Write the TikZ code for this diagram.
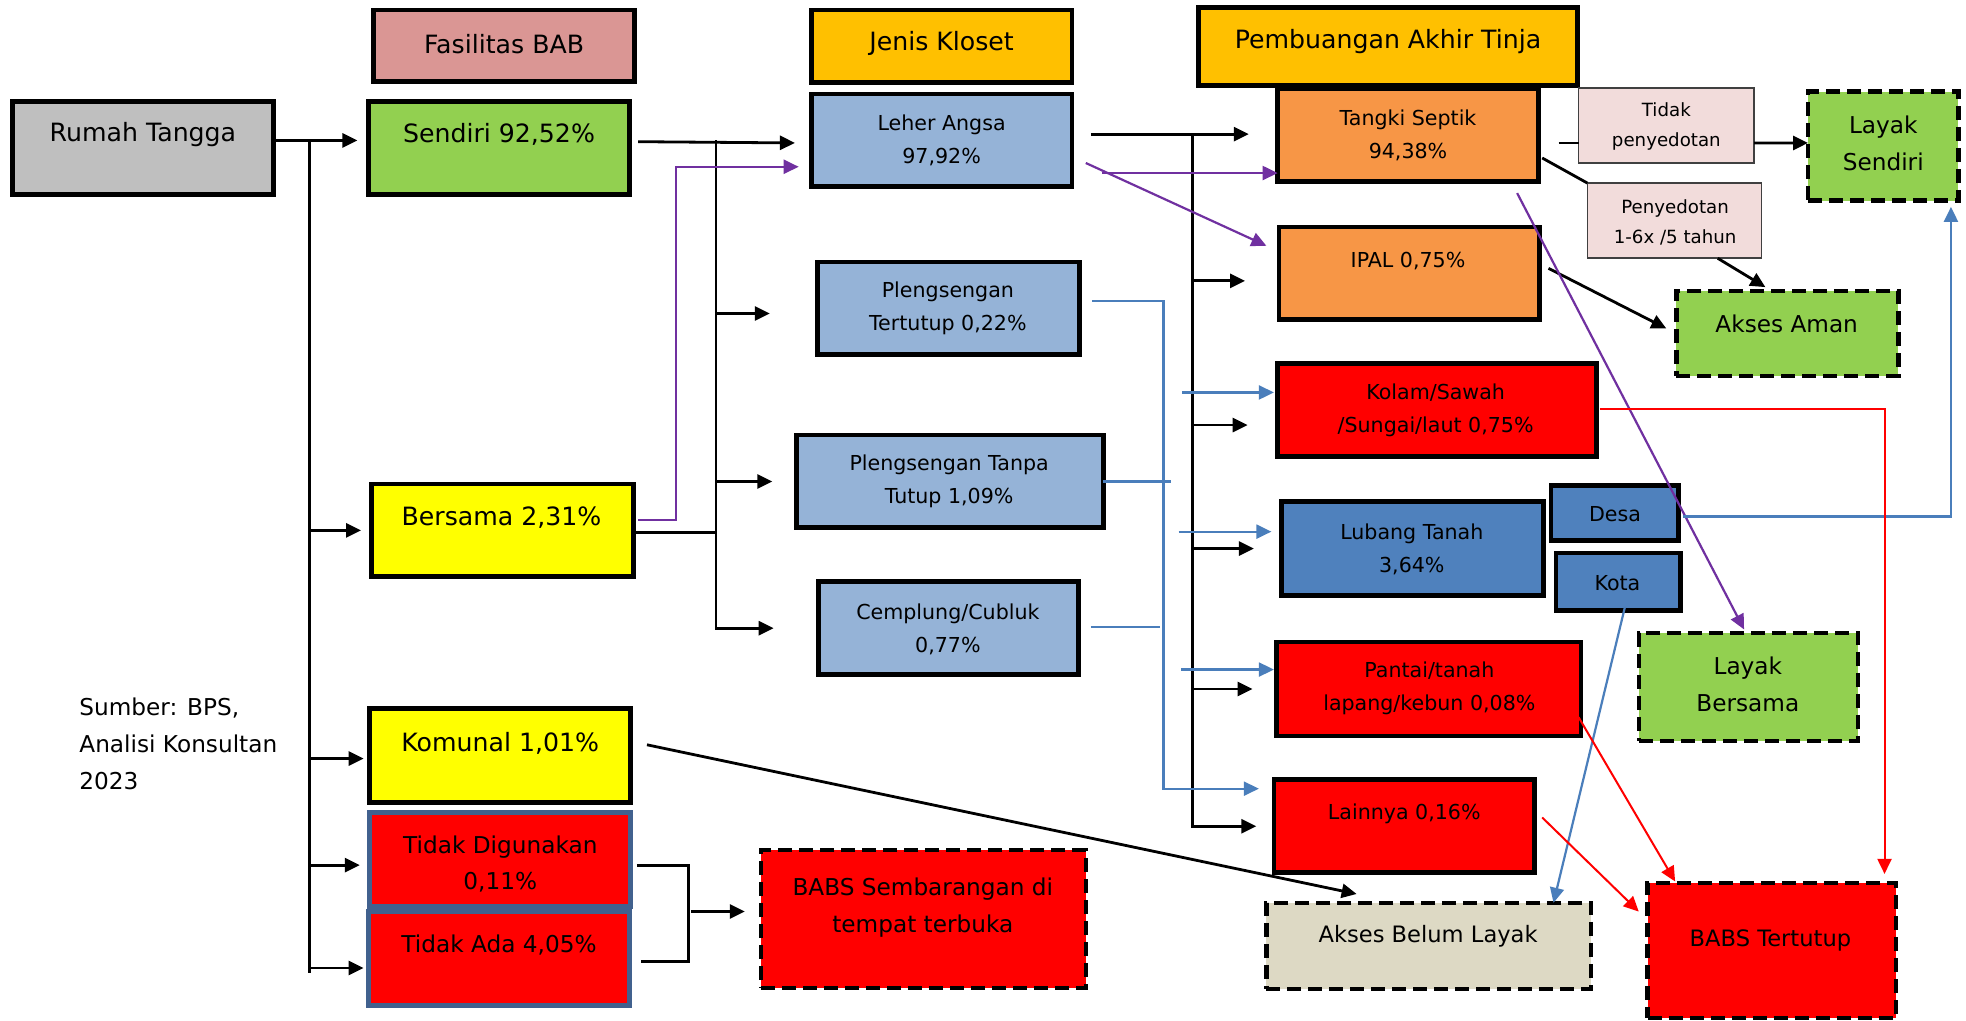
\documentclass[tikz,border=0pt]{standalone}
\usepackage{fontspec}
\setmainfont{DejaVu Sans}
\usetikzlibrary{arrows.meta,calc,fit}
\definecolor{cFas}{HTML}{DA9694}
\definecolor{cGray}{HTML}{BFBFBF}
\definecolor{cGreen}{HTML}{92D050}
\definecolor{cYel}{HTML}{FFFF00}
\definecolor{cRed}{HTML}{FF0000}
\definecolor{cGold}{HTML}{FFC000}
\definecolor{cLBlue}{HTML}{95B3D7}
\definecolor{cOrg}{HTML}{F79646}
\definecolor{cMBlue}{HTML}{4F81BD}
\definecolor{cPink}{HTML}{F2DCDB}
\definecolor{cTan}{HTML}{DDD9C4}
\definecolor{cSteel}{HTML}{41618E}
\definecolor{cPur}{HTML}{7030A0}
\definecolor{cBlu}{HTML}{4A7EBB}
\newcommand\bx[7]{\node[#2, fit={(#3) (#4)}, inner sep=0pt, outer sep=0pt] (#1) {};
  \node[lbl, #5] (#1t) at (#6) {#7};}
\tikzset{
  sbox/.style={draw=black, line width=2.4pt, rectangle},
  dbox/.style={draw=black, line width=2.2pt, rectangle, dash pattern=on 7pt off 3.5pt},
  tbox/.style={draw=black!75, line width=0.8pt, rectangle},
  lbl/.style={align=center, inner sep=0pt, text=black},
  fB/.style={font=\fontsize{12.6pt}{18pt}\selectfont},
  fT/.style={font=\fontsize{11.6pt}{18.2pt}\selectfont},
  fM/.style={font=\fontsize{11.6pt}{18.5pt}\selectfont},
  fS/.style={font=\fontsize{10.3pt}{16.6pt}\selectfont},
  fS2/.style={font=\fontsize{11.3pt}{16.6pt}\selectfont},
  fX/.style={font=\fontsize{9.1pt}{15pt}\selectfont},
  blk/.style={draw=black, line width=1.4pt},
  pur/.style={draw=cPur, line width=1.1pt},
  blu/.style={draw=cBlu, line width=1.1pt},
  rdl/.style={draw=cRed, line width=1pt},
  arr/.style={-{Triangle[length=7.5pt,width=7pt]}},
}
\begin{document}
\begin{tikzpicture}[x=0.6269pt, y=-0.6269pt]
\fill[white] (0,0) rectangle (1568,814);
\useasboundingbox (0,0) rectangle (1568,814);
% boxes
\bx{fas}{sbox, fill=cFas}{298,8}{506,65}{fB}{402,35}{Fasilitas BAB}
\bx{rt}{sbox, fill=cGray}{10,81}{218,155}{fB}{114,107}{Rumah Tangga}
\bx{sen}{sbox, fill=cGreen}{294,81}{502,155}{fB}{398,107}{Sendiri 92,52\%}
\bx{ber}{sbox, fill=cYel}{296,386}{505,460}{fB}{400,413}{Bersama 2,31\%}
\bx{kom}{sbox, fill=cYel}{295,565}{503,640}{fB}{399,593}{Komunal 1,01\%}
\bx{tdg}{sbox, draw=cSteel, fill=cRed}{295,648}{503,723}{fT}{399,689}{Tidak Digunakan\\0,11\%}
\bx{tda}{sbox, draw=cSteel, fill=cRed}{294,727}{502,802}{fT}{398,754}{Tidak Ada 4,05\%}
\bx{jk}{sbox, fill=cGold}{647,8}{855,66}{fB}{751,35}{Jenis Kloset}
\bx{la}{sbox, fill=cLBlue}{647,75}{855,149}{fS}{751,112}{Leher Angsa\\97,92\%}
\bx{pt}{sbox, fill=cLBlue}{652,209}{861,283}{fS}{756,246}{Plengsengan\\Tertutup 0,22\%}
\bx{ptt}{sbox, fill=cLBlue}{635,347}{880,421}{fS}{757,384}{Plengsengan Tanpa\\Tutup 1,09\%}
\bx{cc}{sbox, fill=cLBlue}{653,464}{860,538}{fS}{756,502}{Cemplung/Cubluk\\0,77\%}
\bx{pat}{sbox, fill=cGold}{956,6}{1258,68}{fB}{1107,33}{Pembuangan Akhir Tinja}
\bx{ts}{sbox, fill=cOrg}{1019,71}{1227,145}{fS}{1123,108}{Tangki Septik\\94,38\%}
\bx{ipal}{sbox, fill=cOrg}{1020,181}{1228,255}{fS}{1123,208}{IPAL 0,75\%}
\bx{kol}{sbox, fill=cRed}{1019,290}{1273,364}{fS}{1145,327}{Kolam/Sawah\\/Sungai/laut 0,75\%}
\bx{lt}{sbox, fill=cMBlue}{1022,400}{1231,475}{fS}{1126,438}{Lubang Tanah\\3,64\%}
\bx{pan}{sbox, fill=cRed}{1018,512}{1261,587}{fS}{1140,549}{Pantai/tanah\\lapang/kebun 0,08\%}
\bx{lai}{sbox, fill=cRed}{1016,622}{1224,696}{fS}{1120,649}{Lainnya 0,16\%}
\bx{desa}{sbox, fill=cMBlue}{1237,387}{1339,431}{fS}{1288,410}{Desa}
\bx{kota}{sbox, fill=cMBlue}{1241,441}{1340,487}{fS}{1290,465}{Kota}
\bx{tp}{tbox, fill=cPink}{1259,70}{1399,130}{fX}{1329,101}{Tidak\\penyedotan}
\bx{py}{tbox, fill=cPink}{1266,146}{1405,206}{fX}{1336,177}{Penyedotan\\1-6x /5 tahun}
\bx{ls}{dbox, fill=cGreen}{1442,73}{1562,160}{fM}{1502,114}{Layak\\Sendiri}
\bx{aa}{dbox, fill=cGreen}{1337,232}{1514,300}{fM}{1425,258}{Akses Aman}
\bx{lb}{dbox, fill=cGreen}{1307,505}{1482,591}{fM}{1394,546}{Layak\\Bersama}
\bx{abl}{dbox, fill=cTan}{1010,720}{1269,789}{fS2}{1139,747}{Akses Belum Layak}
\bx{bt}{dbox, fill=cRed}{1314,704}{1512,812}{fS2}{1412,750}{BABS Tertutup}
\bx{bs}{dbox, fill=cRed}{607,678}{866,788}{fM}{736,724}{BABS Sembarangan di\\tempat terbuka}
\node[lbl, align=left, anchor=west, fM] (src) at (63,593) {Sumber: BPS,\\Analisi Konsultan\\2023};
% junctions
\coordinate (j1) at ($(rt.east)+(29,-6)$);
\coordinate (j2) at ($(sen.east)+(69,-6)$);
\coordinate (j3) at ($(la.east)+(96,-5)$);
% black connectors
\draw[blk, arr] ($(rt.east)+(2,-6)$) -- ($(sen.west)+(-9,-6)$);
\draw[blk] (j1) -- ($(j1 |- tda.west)+(0,11.5)$);
\draw[blk, arr] (j1 |- ber.west) -- ($(ber.west)+(-8,0)$);
\draw[blk, arr] ($(j1 |- kom.west)+(0,2.5)$) -- ($(kom.west)+(-5,2.5)$);
\draw[blk, arr] ($(j1 |- tdg.west)+(0,4.5)$) -- ($(tdg.west)+(-8,4.5)$);
\draw[blk, arr] ($(j1 |- tda.west)+(0,7.5)$) -- ($(tda.west)+(-4,7.5)$);
\draw[blk, arr] ($(sen.east)+(7,-5)$) -- ($(la.west)+(-13,2)$);
\draw[blk, arr] (j2) -- (j2 |- cc.west) -- ($(cc.west)+(-36,0)$);
\draw[blk, arr] ($(j2 |- pt.west)+(0,4)$) -- ($(pt.west)+(-38,4)$);
\draw[blk, arr] (j2 |- ptt.west) -- ($(ptt.west)+(-19,0)$);
\draw[blk] ($(ber.east)+(1,2)$) -- ($(j2 |- ber.east)+(0,2)$);
\draw[blk, arr] ($(la.east)+(15,-5)$) -- ($(ts.west)+(-23,-1)$);
\draw[blk, arr] (j3) -- (j3 |- lai.west) -- ($(lai.west)+(-14,0)$);
\draw[blk, arr] ($(j3 |- ipal.west)+(0,6)$) -- ($(ipal.west)+(-27,6)$);
\draw[blk, arr] ($(j3 |- kol.west)+(0,12)$) -- ($(kol.west)+(-24,12)$);
\draw[blk, arr] (j3 |- lt.west) -- ($(lt.west)+(-22,0)$);
\draw[blk, arr] (j3 |- pan.west) -- ($(pan.west)+(-19,0)$);
\draw[blk] ($(ts.east)+(16,6)$) -- ($(tp.west)+(0,14)$);
\draw[blk, arr] ($(tp.east)+(0,14)$) -- ($(ls.west)+(0,-2.5)$);
\draw[blk] ($(ts.east)+(3,18)$) -- (py.north west);
\draw[blk, arr] ($(py.south)+(34.5,0)$) -- ($(aa.north)+(-17.5,-3)$);
\draw[blk, arr] ($(ipal.east)+(7,-4)$) -- ($(aa.west)+(-8,-4)$);
\draw[blk, arr] ($(kom.east)+(13,-8.5)$) -- ($(abl.north)+(-57.5,-7)$);
\draw[blk] ($(tdg.east)+(5,4.5)$) -- ($(tdg.east)+(46,4.5)$) -- ($(tda.east)+(47,2.5)$) -- ($(tda.east)+(9,2.5)$);
\draw[blk, arr] ($(bs.west)+(-56,-6)$) -- ($(bs.west)+(-13,-6)$);
% purple connectors
\draw[pur, arr] ($(ber.east)+(4,-8)$) -| ($(la.west)+(-108,21)$) -- ($(la.west)+(-10,21)$);
\draw[pur, arr] ($(la.east)+(24,26)$) -- ($(ts.west)+(0,30)$);
\draw[pur, arr] ($(la.east)+(11,18)$) -- ($(ipal.west)+(-10,-22)$);
\draw[pur, arr] ($(ts.east)+(-17,46)$) -- ($(lb.north)+(-3.5,-3)$);
% blue connectors
\draw[blu, arr] ($(pt.east)+(10,-6)$) -| ($(lai.west)+(-88,-30)$) -- ($(lai.west)+(-12,-30)$);
\draw[blu] (ptt.east) -- ($(ptt.east)+(54,0)$);
\draw[blu] ($(cc.east)+(10,-1)$) -- ($(cc.east)+(65,-1)$);
\draw[blu, arr] ($(kol.west)+(-76,-14)$) -- ($(kol.west)+(-3,-14)$);
\draw[blu, arr] ($(lt.west)+(-82,-13.5)$) -- ($(lt.west)+(-8,-13.5)$);
\draw[blu, arr] ($(pan.west)+(-76,-15.5)$) -- ($(pan.west)+(-2,-15.5)$);
\draw[blu, arr] ($(desa.east)+(3,3)$) -| ($(ls.south)+(54,5)$);
\draw[blu, arr] ($(kota.south)+(5.5,-3)$) -- ($(abl.north)+(99.5,0)$);
% red connectors
\draw[rdl, arr] ($(kol.east)+(3,-1)$) -| ($(bt.north)+(90,-7)$);
\draw[rdl, arr] ($(pan.east)+(-2,22.5)$) -- ($(bt.north)+(-77,-1)$);
\draw[rdl, arr] ($(lai.east)+(6,-7)$) -- ($(bt.west)+(-7,-31)$);
\end{tikzpicture}
\end{document}
